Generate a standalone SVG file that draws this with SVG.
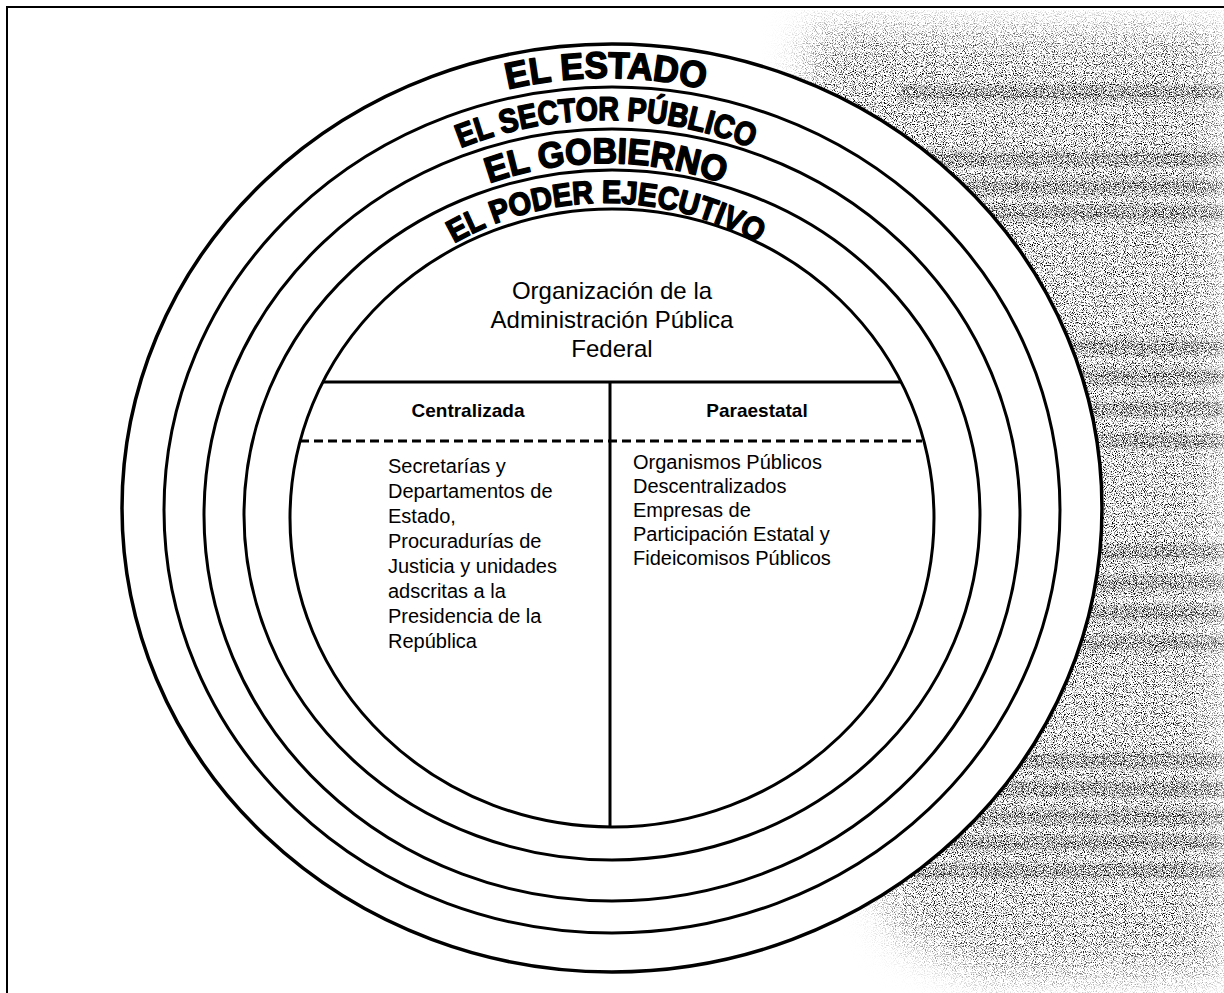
<svg xmlns="http://www.w3.org/2000/svg" width="1224" height="993" viewBox="0 0 1224 993">
  <style>
    .ring { fill: none; stroke: #000; stroke-width: 3; }
    .arc-label { font-family: "Liberation Sans", Arial, sans-serif; font-weight: bold; fill: #000; stroke: #000; stroke-width: 1.6; stroke-linejoin: round; }
    .title { font-family: "Liberation Sans", Arial, sans-serif; font-size: 24px; fill: #000; text-anchor: middle; }
    .head { font-family: "Liberation Sans", Arial, sans-serif; font-size: 19px; font-weight: bold; fill: #000; text-anchor: middle; }
    .body { font-family: "Liberation Sans", Arial, sans-serif; font-size: 20px; fill: #000; }
    .rule { stroke: #000; stroke-width: 3; fill: none; }
    .band { fill: #fff; }
  </style>
  <defs>
    <!-- speckled paper grain on the right margin -->
    <filter id="grain" x="0" y="0" width="1" height="1" filterUnits="objectBoundingBox">
      <feTurbulence type="fractalNoise" baseFrequency="0.9" numOctaves="1" seed="7"/>
      <feColorMatrix type="matrix" values="0 0 0 0 0  0 0 0 0 0  0 0 0 0 0  5 0 0 0 -2.5"/>
    </filter>
    <filter id="grainDense" x="0" y="0" width="1" height="1" filterUnits="objectBoundingBox">
      <feTurbulence type="fractalNoise" baseFrequency="0.85" numOctaves="1" seed="21"/>
      <feColorMatrix type="matrix" values="0 0 0 0 0  0 0 0 0 0  0 0 0 0 0  5 0 0 0 -2.45"/>
    </filter>
    <filter id="soft" x="-0.2" y="-0.2" width="1.4" height="1.4">
      <feGaussianBlur stdDeviation="22"/>
    </filter>
    <filter id="softBand" x="-0.1" y="-1" width="1.2" height="3">
      <feGaussianBlur stdDeviation="2.5"/>
    </filter>
    <mask id="hazeMask" maskUnits="userSpaceOnUse" x="0" y="0" width="1224" height="993">
      <polygon points="810,30 1224,30 1224,975 990,975 900,935 800,620" fill="#fff" filter="url(#soft)"/>
    </mask>
    <!-- darker streaks showing through from the back of the page -->
    <mask id="bandMask" maskUnits="userSpaceOnUse" x="0" y="0" width="1224" height="993">
      <g filter="url(#softBand)" opacity="0.8">
        <rect class="band" x="900" y="86" width="324" height="14"/>
        <rect class="band" x="900" y="152" width="324" height="14"/>
        <rect class="band" x="900" y="180" width="324" height="14"/>
        <rect class="band" x="900" y="206" width="324" height="14"/>
        <rect class="band" x="900" y="340" width="324" height="14"/>
        <rect class="band" x="900" y="370" width="324" height="14"/>
        <rect class="band" x="900" y="402" width="324" height="14"/>
        <rect class="band" x="900" y="434" width="324" height="14"/>
        <rect class="band" x="900" y="545" width="324" height="14"/>
        <rect class="band" x="900" y="576" width="324" height="14"/>
        <rect class="band" x="900" y="606" width="324" height="14"/>
        <rect class="band" x="900" y="636" width="324" height="14"/>
        <rect class="band" x="900" y="754" width="324" height="14"/>
        <rect class="band" x="900" y="782" width="324" height="14"/>
        <rect class="band" x="900" y="810" width="324" height="14"/>
        <rect class="band" x="900" y="836" width="324" height="14"/>
        <rect class="band" x="900" y="864" width="324" height="14"/>
      </g>
    </mask>
    <!-- baselines for the curved ring titles -->
    <path id="arcEstado" d="M 174,510 A 432,432 0 0 1 1038,510"/>
    <path id="arcSector" d="M 216,510 A 390,390 0 0 1 996,510"/>
    <path id="arcGobierno" d="M 259,510 A 347,347 0 0 1 953,510"/>
    <path id="arcPoder" d="M 299,510 A 307,307 0 0 1 913,510"/>
  </defs>

  <rect width="1224" height="993" fill="#fff"/>
  <g mask="url(#hazeMask)">
    <rect x="700" y="10" width="524" height="983" fill="#000" filter="url(#grain)"/>
  </g>
  <g mask="url(#bandMask)">
    <rect x="880" y="60" width="344" height="840" fill="#000" filter="url(#grainDense)"/>
  </g>

  <!-- page frame -->
  <path d="M 7,993 V 7 H 1224" fill="none" stroke="#000" stroke-width="2"/>

  <!-- concentric rings -->
  <g id="ring-estado">
    <ellipse cx="612" cy="508" rx="490" ry="464" fill="#fff" stroke="#000" stroke-width="3.5"/>
    <text class="arc-label" font-size="37"><textPath href="#arcEstado" startOffset="50%" text-anchor="middle" textLength="198" lengthAdjust="spacingAndGlyphs">EL ESTADO</textPath></text>
  </g>
  <g id="ring-sector-publico">
    <ellipse class="ring" cx="612" cy="510" rx="448" ry="423"/>
    <text class="arc-label" font-size="33"><textPath href="#arcSector" startOffset="50%" text-anchor="middle" textLength="298" lengthAdjust="spacingAndGlyphs">EL SECTOR PÚBLICO</textPath></text>
  </g>
  <g id="ring-gobierno">
    <ellipse class="ring" cx="612" cy="515" rx="408" ry="386"/>
    <text class="arc-label" font-size="36"><textPath href="#arcGobierno" startOffset="50%" text-anchor="middle" textLength="238" lengthAdjust="spacingAndGlyphs">EL GOBIERNO</textPath></text>
  </g>
  <g id="ring-poder-ejecutivo">
    <ellipse class="ring" cx="612" cy="515" rx="368" ry="345"/>
    <text class="arc-label" font-size="32"><textPath href="#arcPoder" startOffset="50%" text-anchor="middle" textLength="318" lengthAdjust="spacingAndGlyphs">EL PODER EJECUTIVO</textPath></text>
  </g>

  <!-- core: federal public administration -->
  <g id="apf">
    <ellipse class="ring" cx="612" cy="518" rx="322" ry="309" stroke-width="2.5"/>
    <text class="title" x="612" y="299">Organización de la</text>
    <text class="title" x="612" y="328">Administración Pública</text>
    <text class="title" x="612" y="357">Federal</text>
  </g>

  <g id="dividers">
    <line class="rule" x1="322" y1="382" x2="901" y2="382" stroke-width="2.5"/>
    <line class="rule" x1="300" y1="441" x2="922" y2="441" stroke-dasharray="9 5"/>
    <line class="rule" x1="610" y1="382" x2="610" y2="827" stroke-width="2.5"/>
  </g>

  <g id="centralizada">
    <text class="head" x="468" y="417">Centralizada</text>
    <text class="body">
      <tspan x="388" y="473">Secretarías y</tspan>
      <tspan x="388" y="498">Departamentos de</tspan>
      <tspan x="388" y="523">Estado,</tspan>
      <tspan x="388" y="548">Procuradurías de</tspan>
      <tspan x="388" y="573">Justicia y unidades</tspan>
      <tspan x="388" y="598">adscritas a la</tspan>
      <tspan x="388" y="623">Presidencia de la</tspan>
      <tspan x="388" y="648">República</tspan>
    </text>
  </g>

  <g id="paraestatal">
    <text class="head" x="757" y="417">Paraestatal</text>
    <text class="body">
      <tspan x="633" y="469">Organismos Públicos</tspan>
      <tspan x="633" y="493">Descentralizados</tspan>
      <tspan x="633" y="517">Empresas de</tspan>
      <tspan x="633" y="541">Participación Estatal y</tspan>
      <tspan x="633" y="565">Fideicomisos Públicos</tspan>
    </text>
  </g>
</svg>
